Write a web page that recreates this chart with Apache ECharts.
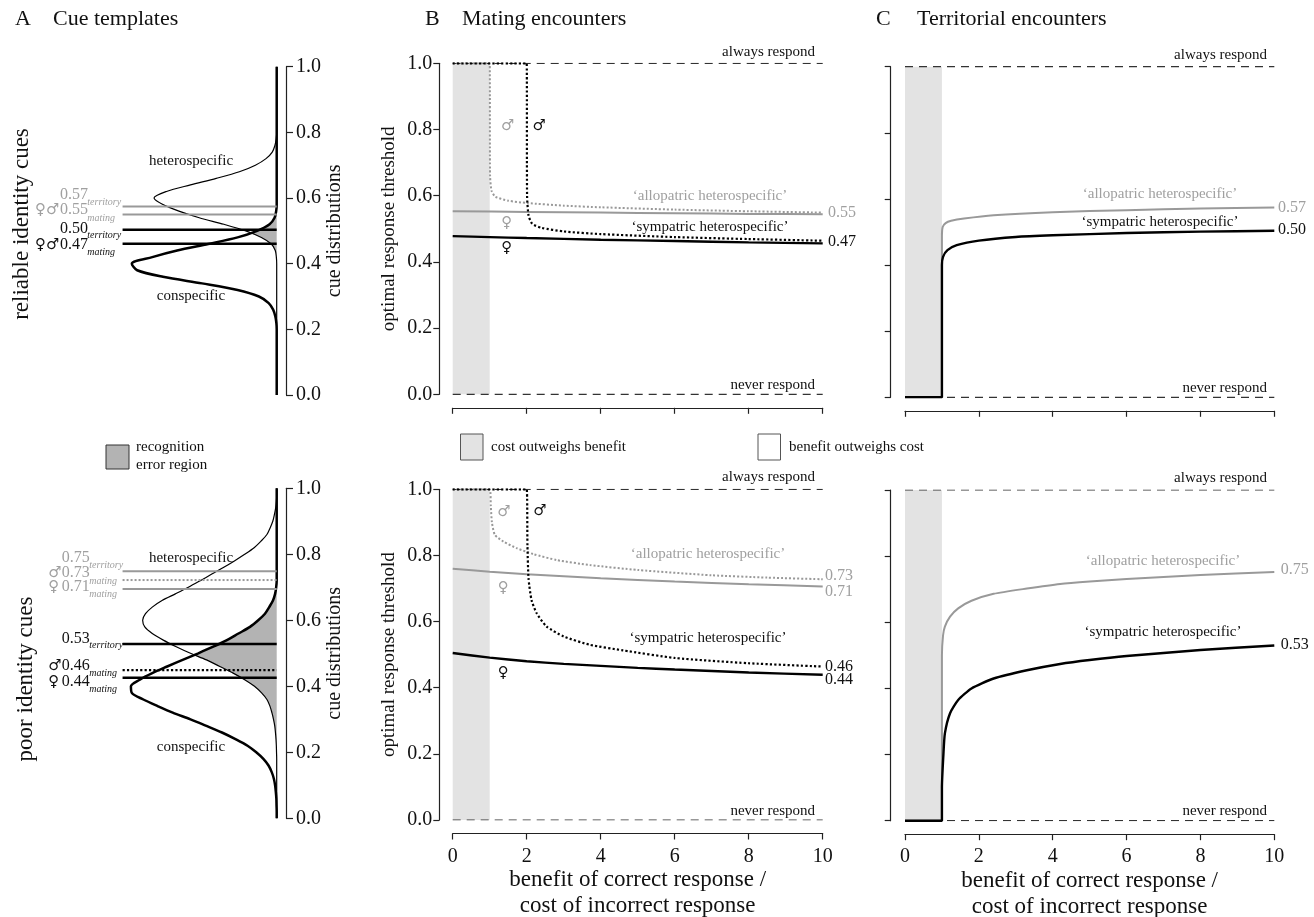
<!DOCTYPE html>
<html>
<head>
<meta charset="utf-8">
<script src="https://cdn.jsdelivr.net/npm/echarts@6/dist/echarts.min.js"></script>
<style>
html, body { margin: 0; padding: 0; background: #fff; }
#chart { width: 1314px; height: 917px; }
</style>
</head>
<body>
<div id="chart"></div>
<script>
// ---- panel A: cue distributions, sampled every 0.02 along the cue axis ----
const cueLevels = [0, 0.02, 0.04, 0.06, 0.08, 0.1, 0.12, 0.14, 0.16, 0.18, 0.2, 0.22, 0.24, 0.26, 0.28, 0.3,
  0.32, 0.34, 0.36, 0.38, 0.4, 0.42, 0.44, 0.46, 0.48, 0.5, 0.52, 0.54, 0.56, 0.58, 0.6, 0.62, 0.64, 0.66,
  0.68, 0.7, 0.72, 0.74, 0.76, 0.78, 0.8, 0.82, 0.84, 0.86, 0.88, 0.9, 0.92, 0.94, 0.96, 0.98, 1]
const conspecificReliable = [0, 0, 0, 0, 0, 0, 0, 0, 0, 0, 0,
  0.02, 0.08, 0.2, 0.45, 1.0, 2.2, 4.2, 6.4, 7.85, 8.15, 7.0, 5.6, 3.85, 2.2, 1.1, 0.4, 0.12, 0.03,
  0, 0, 0, 0, 0, 0, 0, 0, 0, 0, 0, 0, 0, 0, 0, 0, 0, 0, 0, 0, 0, 0]
const heterospecificReliable = [0, 0, 0, 0, 0, 0, 0, 0, 0, 0, 0, 0, 0, 0, 0, 0, 0, 0, 0, 0, 0,
  0.02, 0.08, 0.3, 0.86, 1.74, 2.97, 4.36, 5.5, 6.4, 6.9, 6.2, 4.85, 3.4, 2.1, 1.2, 0.6, 0.25, 0.1, 0.03,
  0, 0, 0, 0, 0, 0, 0, 0, 0, 0, 0]
const conspecificPoor = [0, 0, 0.01, 0.02, 0.05, 0.09, 0.16, 0.28, 0.46, 0.75, 1.15, 1.64, 2.32, 3.08, 3.95,
  4.85, 5.85, 6.7, 7.5, 8.15, 8.2, 7.7, 7.0, 6.16, 5.29, 4.41, 3.57, 2.8, 2.15, 1.5, 1.04, 0.66, 0.42, 0.21,
  0.09, 0.03, 0, 0, 0, 0, 0, 0, 0, 0, 0, 0, 0, 0, 0, 0, 0]
const heterospecificPoor = [0, 0, 0, 0, 0, 0, 0, 0, 0, 0,
  0.01, 0.02, 0.04, 0.07, 0.11, 0.18, 0.27, 0.38, 0.55, 0.85, 1.25, 1.8, 2.45, 3.2, 3.95, 4.85, 5.65, 6.38,
  7.0, 7.42, 7.54, 7.38, 7.0, 6.45, 5.7, 4.97, 4.3, 3.65, 3.0, 2.38, 1.8, 1.27, 0.88, 0.55, 0.37, 0.22,
  0.13, 0.06, 0.02, 0, 0]

// response thresholds marked on the cue templates
const reliableThresholds = [0.574, 0.550, 0.503, 0.461]
const poorThresholds = [0.749, 0.722, 0.695, 0.528, 0.449, 0.426]

// ---- panel B: mating encounters, [benefit/cost, threshold] ----
const matingReliableAlloFemale = [[0, 0.553], [2, 0.551], [4, 0.549], [6, 0.547], [8, 0.545], [10, 0.544]]
const matingReliableAlloMale = [[0, 1], [1, 1], [1.01, 0.66], [1.05, 0.615], [1.15, 0.597], [1.5, 0.585],
  [2, 0.578], [3, 0.57], [4, 0.565], [6, 0.558], [8, 0.553], [10, 0.549]]
const matingReliableSymFemale = [[0, 0.478], [1, 0.475], [2, 0.472], [4, 0.467], [6, 0.463], [8, 0.459], [10, 0.456]]
const matingReliableSymMale = [[0, 1], [2, 1], [2.01, 0.6], [2.05, 0.54], [2.15, 0.515], [2.4, 0.503],
  [3, 0.492], [4, 0.484], [6, 0.475], [8, 0.469], [10, 0.464]]

const matingPoorAlloFemale = [[0, 0.760], [1, 0.751], [2, 0.743], [3, 0.737], [4, 0.731], [6, 0.721], [8, 0.713], [10, 0.706]]
const matingPoorAlloMale = [[0, 1], [1, 1], [1.03, 0.95], [1.06, 0.9], [1.14, 0.862], [1.37, 0.842], [1.73, 0.822],
  [2.18, 0.804], [2.81, 0.786], [3.71, 0.771], [5, 0.756], [7, 0.740], [8.5, 0.733], [10, 0.728]]
const matingPoorSymFemale = [[0, 0.505], [1, 0.491], [2, 0.48], [3, 0.472], [4, 0.466], [5, 0.46], [6, 0.455], [8, 0.446], [10, 0.439]]
const matingPoorSymMale = [[0, 1], [2, 1], [2.02, 0.83], [2.05, 0.73], [2.13, 0.665], [2.27, 0.625], [2.54, 0.585],
  [3, 0.555], [3.7, 0.53], [4.6, 0.513], [6, 0.49], [8, 0.474], [10, 0.464]]

// ---- panel C: territorial encounters ----
const territoryReliableAllo = [[0, 0], [1, 0], [1, 0.49], [1.02, 0.515], [1.1, 0.527], [1.25, 0.534], [1.6, 0.541],
  [2.4, 0.551], [4, 0.56], [6, 0.566], [8, 0.571], [10, 0.574]]
const territoryReliableSym = [[0, 0], [1, 0], [1, 0.4], [1.03, 0.425], [1.15, 0.445], [1.4, 0.46], [2, 0.474],
  [3, 0.485], [4, 0.49], [6, 0.497], [8, 0.501], [10, 0.504]]
const territoryPoorAllo = [[0, 0], [1, 0], [1, 0.5], [1.03, 0.56], [1.08, 0.587], [1.22, 0.617], [1.44, 0.642],
  [1.8, 0.665], [2.4, 0.686], [3.3, 0.702], [4.2, 0.716], [5, 0.7235], [6, 0.731], [8, 0.743], [10, 0.752]]
const territoryPoorSym = [[0, 0], [1, 0], [1, 0.1], [1.04, 0.2], [1.08, 0.264], [1.22, 0.325], [1.44, 0.365],
  [1.8, 0.4], [2.4, 0.43], [3.3, 0.455], [4.2, 0.474], [5, 0.486], [6, 0.498], [8, 0.516], [10, 0.53]]

const benefitRange = [0, 10]
const costRegion = [0, 1]     // benefit/cost below 1: cost outweighs benefit
const responseBounds = [0, 1] // never respond / always respond

const SERIF = '"Liberation Serif", "Times New Roman", serif'
const GREY = '#999999'
const GREY_TEXT = '#a0a0a0'
const AXIS = '#222'

const chart = echarts.init(document.getElementById('chart'))

// overlap of the two cue distributions (recognition error region)
function overlapPolygon (cons, het) {
  const pts = [[0, cueLevels[0]]]
  for (let i = 0; i < cueLevels.length; i++) {
    pts.push([Math.min(cons[i], het[i]), cueLevels[i]])
    if (i < cueLevels.length - 1) {
      const d0 = cons[i] - het[i]
      const d1 = cons[i + 1] - het[i + 1]
      if (d0 * d1 < 0) {
        const t = d0 / (d0 - d1)
        pts.push([cons[i] + t * (cons[i + 1] - cons[i]), cueLevels[i] + t * (cueLevels[i + 1] - cueLevels[i])])
      }
    }
  }
  pts.push([0, cueLevels[cueLevels.length - 1]])
  return pts
}

function line (data, axis, color, type, width, z, smooth) {
  return {
    type: 'line',
    data: data,
    xAxisIndex: axis,
    yAxisIndex: axis,
    symbol: 'none',
    smooth: smooth === undefined ? 0.2 : smooth,
    lineStyle: {color: color, type: type, width: width},
    z: z || 3,
    silent: true
  }
}

function fillSeries (axis, poly) {
  return {
    type: 'custom',
    xAxisIndex: axis,
    yAxisIndex: axis,
    data: [[0, 0]],
    clip: false,
    z: 1,
    silent: true,
    renderItem: function (params, api) {
      return {
        type: 'polygon',
        shape: {points: poly.map(p => api.coord(p))},
        style: {fill: '#b3b3b3'}
      }
    }
  }
}

function boundsSeries (axis) {
  return [responseBounds[1], responseBounds[0]].map((v, k) => ({
    type: 'line',
    data: [[benefitRange[0], v], [benefitRange[1], v]],
    xAxisIndex: axis,
    yAxisIndex: axis,
    symbol: 'none',
    lineStyle: {color: '#333', type: [8, 6], width: 1.2},
    z: 2,
    silent: true,
    markArea: k === 0 ? {
      silent: true,
      itemStyle: {color: '#e3e3e3'},
      data: [[{xAxis: costRegion[0], yAxis: responseBounds[0]}, {xAxis: costRegion[1], yAxis: responseBounds[1]}]]
    } : undefined
  }))
}

function thresholdSeries (axis, values, styles) {
  return values.map((v, i) => line([[8.67, v], [0, v]], axis, styles[i][0], styles[i][1], styles[i][2], 5, false))
}

const series = [
  // A reliable
  fillSeries(0, overlapPolygon(conspecificReliable, heterospecificReliable)),
  line(cueLevels.map((c, i) => [heterospecificReliable[i], c]), 0, '#000', 'solid', 1.2, 3, 0.3),
  line(cueLevels.map((c, i) => [conspecificReliable[i], c]), 0, '#000', 'solid', 2.5, 4, 0.3),
  ...thresholdSeries(0, reliableThresholds, [[GREY, 'solid', 2], [GREY, 'solid', 2], ['#000', 'solid', 2.5], ['#000', 'solid', 2.5]]),
  // A poor
  fillSeries(1, overlapPolygon(conspecificPoor, heterospecificPoor)),
  line(cueLevels.map((c, i) => [heterospecificPoor[i], c]), 1, '#000', 'solid', 1.2, 3, 0.3),
  line(cueLevels.map((c, i) => [conspecificPoor[i], c]), 1, '#000', 'solid', 2.5, 4, 0.3),
  ...thresholdSeries(1, poorThresholds, [[GREY, 'solid', 2], [GREY, 'dotted', 2], [GREY, 'solid', 2],
    ['#000', 'solid', 2.5], ['#000', 'dotted', 2.2], ['#000', 'solid', 2.5]]),
  // B reliable
  ...boundsSeries(2),
  line(matingReliableAlloFemale, 2, GREY, 'solid', 2),
  line(matingReliableAlloMale, 2, GREY, 'dotted', 2),
  line(matingReliableSymFemale, 2, '#000', 'solid', 2.4),
  line(matingReliableSymMale, 2, '#000', 'dotted', 2.2),
  // B poor
  ...boundsSeries(3),
  line(matingPoorAlloFemale, 3, GREY, 'solid', 2),
  line(matingPoorAlloMale, 3, GREY, 'dotted', 2),
  line(matingPoorSymFemale, 3, '#000', 'solid', 2.4),
  line(matingPoorSymMale, 3, '#000', 'dotted', 2.2),
  // C reliable
  ...boundsSeries(4),
  line(territoryReliableAllo, 4, GREY, 'solid', 2),
  line(territoryReliableSym, 4, '#000', 'solid', 2.4),
  // C poor
  ...boundsSeries(5),
  line(territoryPoorAllo, 5, GREY, 'solid', 2),
  line(territoryPoorSym, 5, '#000', 'solid', 2.4)
]

const grids = [
  {left: 116.7, top: 66.7, width: 160, height: 328.3},
  {left: 116.7, top: 488.3, width: 160, height: 330},
  {left: 452.7, top: 63.3, width: 370, height: 331},
  {left: 452.7, top: 489.3, width: 370, height: 330.7},
  {left: 905, top: 66.7, width: 369.3, height: 330.6},
  {left: 905, top: 490, width: 369.3, height: 330.7}
].map(g => Object.assign(g, {outerBoundsMode: 'none', containLabel: false}))

const xAxes = grids.map((g, i) => {
  if (i < 2) return {gridIndex: i, type: 'value', min: 0, max: 9, inverse: true, show: false}
  const bottom = i === 3 || i === 5
  return {
    gridIndex: i,
    type: 'value',
    min: benefitRange[0],
    max: benefitRange[1],
    interval: 2,
    offset: 13.5,
    axisLine: {show: true, onZero: false, lineStyle: {color: AXIS, width: 1.2}},
    axisTick: {show: true, length: 6, lineStyle: {color: AXIS, width: 1.2}},
    axisLabel: {show: bottom, fontSize: 20, color: '#111', margin: 13, fontFamily: SERIF},
    splitLine: {show: false},
    name: bottom ? 'benefit of correct response /\ncost of incorrect response' : '',
    nameLocation: 'middle',
    nameGap: 30,
    nameTextStyle: {fontSize: 23, lineHeight: 26, color: '#111', fontFamily: SERIF}
  }
})

const yAxes = grids.map((g, i) => {
  const base = {
    gridIndex: i,
    type: 'value',
    min: responseBounds[0],
    max: responseBounds[1],
    interval: 0.2,
    axisLine: {show: true, onZero: false, lineStyle: {color: AXIS, width: 1.2}},
    axisTick: {show: true, length: 6, lineStyle: {color: AXIS, width: 1.2}},
    splitLine: {show: false},
    nameLocation: 'middle',
    nameRotate: 90
  }
  if (i < 2) {
    return Object.assign(base, {
      position: 'right',
      offset: 9.3,
      axisTick: {show: true, length: 7, lineStyle: {color: AXIS, width: 1.2}},
      axisLabel: {fontSize: 20, color: '#111', margin: 10, fontFamily: SERIF, formatter: v => v.toFixed(1)},
      name: 'cue distributions',
      nameGap: 39,
      nameTextStyle: {fontSize: 20, color: '#111', fontFamily: SERIF}
    })
  }
  if (i < 4) {
    return Object.assign(base, {
      position: 'left',
      offset: 13.4,
      axisLabel: {fontSize: 20, color: '#111', margin: 7, fontFamily: SERIF, formatter: v => v.toFixed(1)},
      name: 'optimal response threshold',
      nameGap: 41,
      nameTextStyle: {fontSize: 19, color: '#111', fontFamily: SERIF}
    })
  }
  return Object.assign(base, {position: 'left', offset: 14.3, axisLabel: {show: false}})
})

// ---- annotations ----
function txt (x, y, text, size, color, align, opts) {
  opts = opts || {}
  return {
    type: 'text',
    x: x,
    y: y,
    rotation: opts.rotation || 0,
    silent: true,
    z: 10,
    style: {
      text: text,
      font: (opts.italic ? 'italic ' : '') + size + 'px ' + (opts.family || SERIF),
      fill: color,
      align: align || 'left',
      verticalAlign: 'middle'
    }
  }
}
const SYM = '"DejaVu Sans", sans-serif'
function sym (x, y, s, color) { return txt(x, y, s, 15, color, 'center', {family: SYM}) }

const graphics = [
  // titles
  txt(15, 19, 'A', 22, '#111'), txt(53, 19, 'Cue templates', 22, '#111'),
  txt(425, 19, 'B', 22, '#111'), txt(462, 19, 'Mating encounters', 22, '#111'),
  txt(876, 19, 'C', 22, '#111'), txt(917, 19, 'Territorial encounters', 22, '#111'),
  // row labels
  txt(22, 224, 'reliable identity cues', 23, '#111', 'center', {rotation: Math.PI / 2}),
  txt(26, 679, 'poor identity cues', 23, '#111', 'center', {rotation: Math.PI / 2}),
  // panel A text
  txt(191, 161, 'heterospecific', 15, '#111', 'center'),
  txt(191, 296, 'conspecific', 15, '#111', 'center'),
  txt(191, 558, 'heterospecific', 15, '#111', 'center'),
  txt(191, 747, 'conspecific', 15, '#111', 'center'),
  // reliable threshold labels
  txt(60, 194.3, '0.57', 16, GREY_TEXT), txt(87.3, 202.3, 'territory', 10, GREY_TEXT, 'left', {italic: true}),
  txt(35, 210, '♀♂', 15, GREY_TEXT, 'left', {family: SYM}),
  txt(60, 210, '0.55', 16, GREY_TEXT), txt(87.3, 218.3, 'mating', 10, GREY_TEXT, 'left', {italic: true}),
  txt(60, 228.3, '0.50', 16, '#111'), txt(87.3, 235, 'territory', 10, '#111', 'left', {italic: true}),
  txt(35, 245, '♀♂', 15, '#111', 'left', {family: SYM}),
  txt(60, 245, '0.47', 16, '#111'), txt(87.3, 252.3, 'mating', 10, '#111', 'left', {italic: true}),
  // poor threshold labels
  txt(61.7, 557.7, '0.75', 16, GREY_TEXT), txt(89.3, 565.7, 'territory', 10, GREY_TEXT, 'left', {italic: true}),
  txt(48.3, 572.7, '♂', 15, GREY_TEXT, 'left', {family: SYM}),
  txt(61.7, 572.7, '0.73', 16, GREY_TEXT), txt(89.3, 581, 'mating', 10, GREY_TEXT, 'left', {italic: true}),
  txt(48.3, 586.7, '♀', 15, GREY_TEXT, 'left', {family: SYM}),
  txt(61.7, 586.7, '0.71', 16, GREY_TEXT), txt(89.3, 594.3, 'mating', 10, GREY_TEXT, 'left', {italic: true}),
  txt(61.7, 638.3, '0.53', 16, '#111'), txt(89.3, 645, 'territory', 10, '#111', 'left', {italic: true}),
  txt(48.3, 666, '♂', 15, '#111', 'left', {family: SYM}),
  txt(61.7, 666, '0.46', 16, '#111'), txt(89.3, 673.3, 'mating', 10, '#111', 'left', {italic: true}),
  txt(48.3, 681.7, '♀', 15, '#111', 'left', {family: SYM}),
  txt(61.7, 681.7, '0.44', 16, '#111'), txt(89.3, 689.3, 'mating', 10, '#111', 'left', {italic: true}),
  // recognition error legend
  {type: 'rect', shape: {x: 106, y: 445, width: 23, height: 24}, style: {fill: '#b3b3b3', stroke: '#333', lineWidth: 1}, silent: true},
  txt(136, 447, 'recognition', 15, '#111'), txt(136, 465, 'error region', 15, '#111'),
  // cost / benefit legend
  {type: 'rect', shape: {x: 460.5, y: 434, width: 22.5, height: 26}, style: {fill: '#e3e3e3', stroke: '#555', lineWidth: 1}, silent: true},
  txt(491, 447, 'cost outweighs benefit', 15, '#111'),
  {type: 'rect', shape: {x: 758, y: 434, width: 22.5, height: 26}, style: {fill: '#fff', stroke: '#555', lineWidth: 1}, silent: true},
  txt(789, 447, 'benefit outweighs cost', 15, '#111'),
  // B reliable
  txt(815, 52, 'always respond', 15, '#111', 'right'), txt(815, 385, 'never respond', 15, '#111', 'right'),
  txt(710, 196, '\u2018allopatric heterospecific\u2019', 15, GREY_TEXT, 'center'),
  txt(710, 227, '\u2018sympatric heterospecific\u2019', 15, '#111', 'center'),
  sym(507.7, 125.7, '♂', GREY_TEXT), sym(539.3, 125.7, '♂', '#111'),
  sym(506.7, 223, '♀', GREY_TEXT), sym(506.7, 248, '♀', '#111'),
  txt(828, 213, '0.55', 16, GREY_TEXT), txt(828, 241.7, '0.47', 16, '#111'),
  // B poor
  txt(815, 477.3, 'always respond', 15, '#111', 'right'), txt(815, 810.7, 'never respond', 15, '#111', 'right'),
  txt(708, 554.3, '\u2018allopatric heterospecific\u2019', 15, GREY_TEXT, 'center'),
  txt(708, 638.3, '\u2018sympatric heterospecific\u2019', 15, '#111', 'center'),
  sym(504, 511.7, '♂', GREY_TEXT), sym(540, 510.7, '♂', '#111'),
  sym(503.3, 588.3, '♀', GREY_TEXT), sym(503.3, 673.3, '♀', '#111'),
  txt(825, 576, '0.73', 16, GREY_TEXT), txt(825, 591.7, '0.71', 16, GREY_TEXT),
  txt(825, 666.7, '0.46', 16, '#111'), txt(825, 680, '0.44', 16, '#111'),
  // C reliable
  txt(1267, 55, 'always respond', 15, '#111', 'right'), txt(1267, 387.7, 'never respond', 15, '#111', 'right'),
  txt(1160, 194, '\u2018allopatric heterospecific\u2019', 15, GREY_TEXT, 'center'),
  txt(1160, 222.3, '\u2018sympatric heterospecific\u2019', 15, '#111', 'center'),
  txt(1278, 207.7, '0.57', 16, GREY_TEXT), txt(1278, 230, '0.50', 16, '#111'),
  // C poor
  txt(1267, 478.3, 'always respond', 15, '#111', 'right'), txt(1267, 811, 'never respond', 15, '#111', 'right'),
  txt(1163, 560.7, '\u2018allopatric heterospecific\u2019', 15, GREY_TEXT, 'center'),
  txt(1163, 631.7, '\u2018sympatric heterospecific\u2019', 15, '#111', 'center'),
  txt(1280.7, 570, '0.75', 16, GREY_TEXT), txt(1280.7, 645, '0.53', 16, '#111')
]

chart.setOption({
  backgroundColor: '#fff',
  animation: false,
  textStyle: {fontFamily: SERIF},
  grid: grids,
  xAxis: xAxes,
  yAxis: yAxes,
  series: series,
  graphic: graphics
})
</script>
</body>
</html>
